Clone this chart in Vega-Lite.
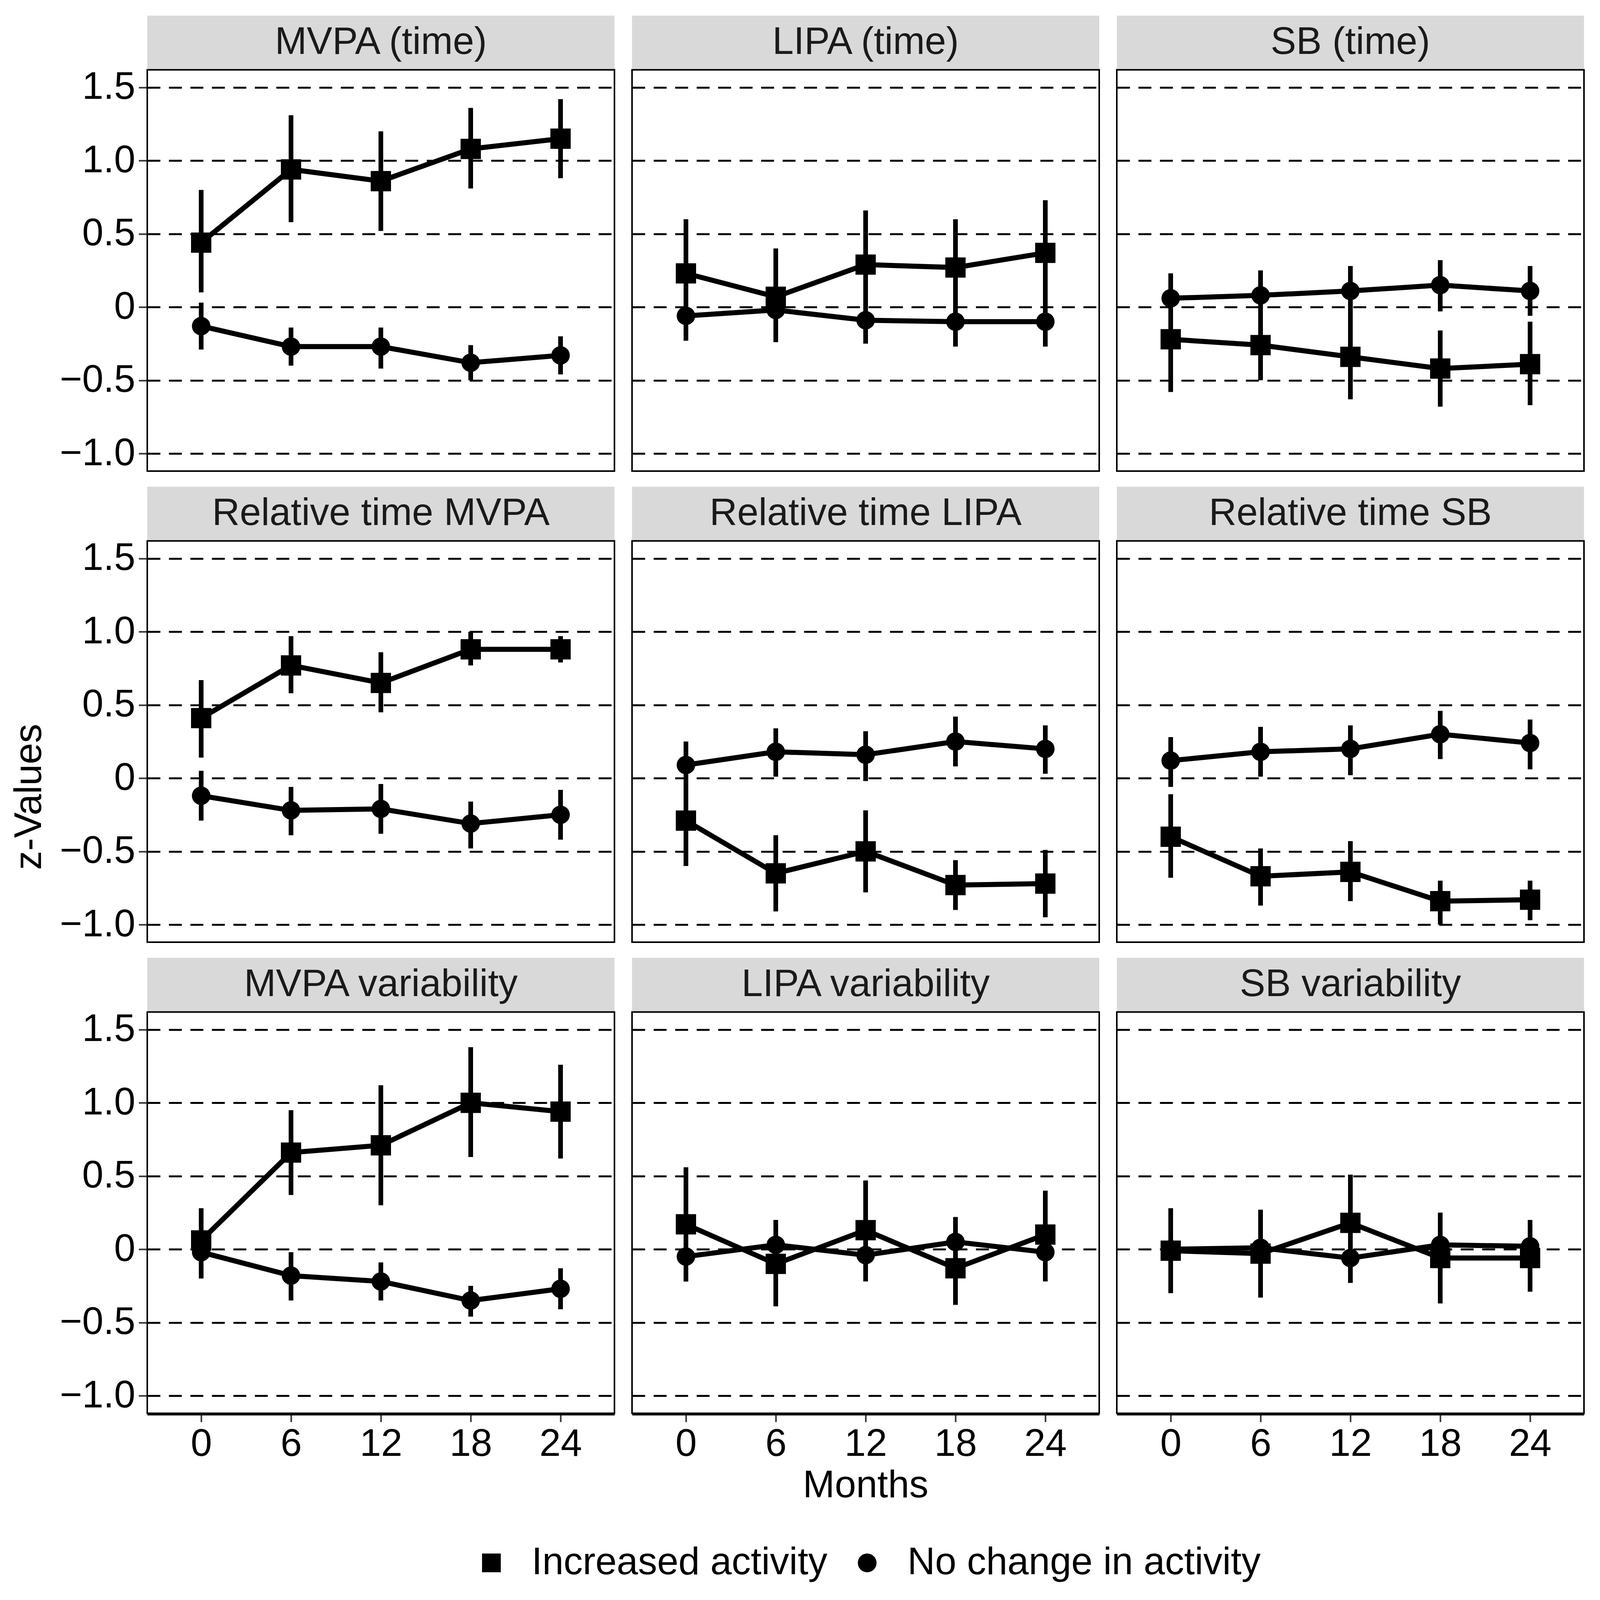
{
  "$schema": "https://vega.github.io/schema/vega-lite/v6.json",
  "background": "white",
  "padding": {"left": 26, "top": 30, "right": 50, "bottom": 20},
  "title": {"text": "z-Values", "orient": "left", "anchor": "middle", "fontSize": 98, "fontWeight": "normal", "color": "black", "offset": 27},
  "data": {
    "values": [
      {"panel": "MVPA (time)", "group": "Increased activity", "month": 0, "z": 0.44, "lo": 0.10, "hi": 0.80},
      {"panel": "MVPA (time)", "group": "Increased activity", "month": 6, "z": 0.94, "lo": 0.58, "hi": 1.31},
      {"panel": "MVPA (time)", "group": "Increased activity", "month": 12, "z": 0.86, "lo": 0.52, "hi": 1.20},
      {"panel": "MVPA (time)", "group": "Increased activity", "month": 18, "z": 1.08, "lo": 0.81, "hi": 1.36},
      {"panel": "MVPA (time)", "group": "Increased activity", "month": 24, "z": 1.15, "lo": 0.88, "hi": 1.42},
      {"panel": "MVPA (time)", "group": "No change in activity", "month": 0, "z": -0.13, "lo": -0.29, "hi": 0.03},
      {"panel": "MVPA (time)", "group": "No change in activity", "month": 6, "z": -0.27, "lo": -0.40, "hi": -0.14},
      {"panel": "MVPA (time)", "group": "No change in activity", "month": 12, "z": -0.27, "lo": -0.42, "hi": -0.14},
      {"panel": "MVPA (time)", "group": "No change in activity", "month": 18, "z": -0.38, "lo": -0.50, "hi": -0.26},
      {"panel": "MVPA (time)", "group": "No change in activity", "month": 24, "z": -0.33, "lo": -0.46, "hi": -0.20},

      {"panel": "LIPA (time)", "group": "Increased activity", "month": 0, "z": 0.23, "lo": -0.15, "hi": 0.60},
      {"panel": "LIPA (time)", "group": "Increased activity", "month": 6, "z": 0.07, "lo": -0.24, "hi": 0.40},
      {"panel": "LIPA (time)", "group": "Increased activity", "month": 12, "z": 0.29, "lo": -0.06, "hi": 0.66},
      {"panel": "LIPA (time)", "group": "Increased activity", "month": 18, "z": 0.27, "lo": -0.06, "hi": 0.60},
      {"panel": "LIPA (time)", "group": "Increased activity", "month": 24, "z": 0.37, "lo": 0.01, "hi": 0.73},
      {"panel": "LIPA (time)", "group": "No change in activity", "month": 0, "z": -0.06, "lo": -0.23, "hi": 0.09},
      {"panel": "LIPA (time)", "group": "No change in activity", "month": 6, "z": -0.02, "lo": -0.20, "hi": 0.15},
      {"panel": "LIPA (time)", "group": "No change in activity", "month": 12, "z": -0.09, "lo": -0.25, "hi": 0.07},
      {"panel": "LIPA (time)", "group": "No change in activity", "month": 18, "z": -0.10, "lo": -0.27, "hi": 0.07},
      {"panel": "LIPA (time)", "group": "No change in activity", "month": 24, "z": -0.10, "lo": -0.27, "hi": 0.06},

      {"panel": "SB (time)", "group": "Increased activity", "month": 0, "z": -0.22, "lo": -0.58, "hi": 0.14},
      {"panel": "SB (time)", "group": "Increased activity", "month": 6, "z": -0.26, "lo": -0.50, "hi": -0.02},
      {"panel": "SB (time)", "group": "Increased activity", "month": 12, "z": -0.34, "lo": -0.63, "hi": -0.04},
      {"panel": "SB (time)", "group": "Increased activity", "month": 18, "z": -0.42, "lo": -0.68, "hi": -0.16},
      {"panel": "SB (time)", "group": "Increased activity", "month": 24, "z": -0.39, "lo": -0.67, "hi": -0.10},
      {"panel": "SB (time)", "group": "No change in activity", "month": 0, "z": 0.06, "lo": -0.10, "hi": 0.23},
      {"panel": "SB (time)", "group": "No change in activity", "month": 6, "z": 0.08, "lo": -0.11, "hi": 0.25},
      {"panel": "SB (time)", "group": "No change in activity", "month": 12, "z": 0.11, "lo": -0.07, "hi": 0.28},
      {"panel": "SB (time)", "group": "No change in activity", "month": 18, "z": 0.15, "lo": -0.03, "hi": 0.32},
      {"panel": "SB (time)", "group": "No change in activity", "month": 24, "z": 0.11, "lo": -0.06, "hi": 0.28},

      {"panel": "Relative time MVPA", "group": "Increased activity", "month": 0, "z": 0.41, "lo": 0.14, "hi": 0.67},
      {"panel": "Relative time MVPA", "group": "Increased activity", "month": 6, "z": 0.77, "lo": 0.58, "hi": 0.97},
      {"panel": "Relative time MVPA", "group": "Increased activity", "month": 12, "z": 0.65, "lo": 0.45, "hi": 0.86},
      {"panel": "Relative time MVPA", "group": "Increased activity", "month": 18, "z": 0.88, "lo": 0.77, "hi": 1.00},
      {"panel": "Relative time MVPA", "group": "Increased activity", "month": 24, "z": 0.88, "lo": 0.79, "hi": 0.97},
      {"panel": "Relative time MVPA", "group": "No change in activity", "month": 0, "z": -0.12, "lo": -0.29, "hi": 0.05},
      {"panel": "Relative time MVPA", "group": "No change in activity", "month": 6, "z": -0.22, "lo": -0.39, "hi": -0.06},
      {"panel": "Relative time MVPA", "group": "No change in activity", "month": 12, "z": -0.21, "lo": -0.38, "hi": -0.04},
      {"panel": "Relative time MVPA", "group": "No change in activity", "month": 18, "z": -0.31, "lo": -0.48, "hi": -0.16},
      {"panel": "Relative time MVPA", "group": "No change in activity", "month": 24, "z": -0.25, "lo": -0.42, "hi": -0.08},

      {"panel": "Relative time LIPA", "group": "Increased activity", "month": 0, "z": -0.29, "lo": -0.60, "hi": 0.00},
      {"panel": "Relative time LIPA", "group": "Increased activity", "month": 6, "z": -0.65, "lo": -0.91, "hi": -0.39},
      {"panel": "Relative time LIPA", "group": "Increased activity", "month": 12, "z": -0.50, "lo": -0.78, "hi": -0.22},
      {"panel": "Relative time LIPA", "group": "Increased activity", "month": 18, "z": -0.73, "lo": -0.90, "hi": -0.56},
      {"panel": "Relative time LIPA", "group": "Increased activity", "month": 24, "z": -0.72, "lo": -0.95, "hi": -0.49},
      {"panel": "Relative time LIPA", "group": "No change in activity", "month": 0, "z": 0.09, "lo": -0.09, "hi": 0.25},
      {"panel": "Relative time LIPA", "group": "No change in activity", "month": 6, "z": 0.18, "lo": 0.01, "hi": 0.34},
      {"panel": "Relative time LIPA", "group": "No change in activity", "month": 12, "z": 0.16, "lo": -0.02, "hi": 0.32},
      {"panel": "Relative time LIPA", "group": "No change in activity", "month": 18, "z": 0.25, "lo": 0.08, "hi": 0.42},
      {"panel": "Relative time LIPA", "group": "No change in activity", "month": 24, "z": 0.20, "lo": 0.03, "hi": 0.36},

      {"panel": "Relative time SB", "group": "Increased activity", "month": 0, "z": -0.40, "lo": -0.68, "hi": -0.11},
      {"panel": "Relative time SB", "group": "Increased activity", "month": 6, "z": -0.67, "lo": -0.87, "hi": -0.48},
      {"panel": "Relative time SB", "group": "Increased activity", "month": 12, "z": -0.64, "lo": -0.84, "hi": -0.43},
      {"panel": "Relative time SB", "group": "Increased activity", "month": 18, "z": -0.84, "lo": -1.00, "hi": -0.70},
      {"panel": "Relative time SB", "group": "Increased activity", "month": 24, "z": -0.83, "lo": -0.97, "hi": -0.70},
      {"panel": "Relative time SB", "group": "No change in activity", "month": 0, "z": 0.12, "lo": -0.06, "hi": 0.28},
      {"panel": "Relative time SB", "group": "No change in activity", "month": 6, "z": 0.18, "lo": 0.01, "hi": 0.35},
      {"panel": "Relative time SB", "group": "No change in activity", "month": 12, "z": 0.20, "lo": 0.02, "hi": 0.36},
      {"panel": "Relative time SB", "group": "No change in activity", "month": 18, "z": 0.30, "lo": 0.13, "hi": 0.46},
      {"panel": "Relative time SB", "group": "No change in activity", "month": 24, "z": 0.24, "lo": 0.06, "hi": 0.40},

      {"panel": "MVPA variability", "group": "Increased activity", "month": 0, "z": 0.06, "lo": -0.17, "hi": 0.28},
      {"panel": "MVPA variability", "group": "Increased activity", "month": 6, "z": 0.66, "lo": 0.37, "hi": 0.95},
      {"panel": "MVPA variability", "group": "Increased activity", "month": 12, "z": 0.71, "lo": 0.30, "hi": 1.12},
      {"panel": "MVPA variability", "group": "Increased activity", "month": 18, "z": 1.00, "lo": 0.63, "hi": 1.38},
      {"panel": "MVPA variability", "group": "Increased activity", "month": 24, "z": 0.94, "lo": 0.62, "hi": 1.26},
      {"panel": "MVPA variability", "group": "No change in activity", "month": 0, "z": -0.02, "lo": -0.20, "hi": 0.16},
      {"panel": "MVPA variability", "group": "No change in activity", "month": 6, "z": -0.18, "lo": -0.35, "hi": -0.02},
      {"panel": "MVPA variability", "group": "No change in activity", "month": 12, "z": -0.22, "lo": -0.35, "hi": -0.09},
      {"panel": "MVPA variability", "group": "No change in activity", "month": 18, "z": -0.35, "lo": -0.46, "hi": -0.25},
      {"panel": "MVPA variability", "group": "No change in activity", "month": 24, "z": -0.27, "lo": -0.41, "hi": -0.13},

      {"panel": "LIPA variability", "group": "Increased activity", "month": 0, "z": 0.17, "lo": -0.22, "hi": 0.56},
      {"panel": "LIPA variability", "group": "Increased activity", "month": 6, "z": -0.10, "lo": -0.39, "hi": 0.19},
      {"panel": "LIPA variability", "group": "Increased activity", "month": 12, "z": 0.13, "lo": -0.22, "hi": 0.47},
      {"panel": "LIPA variability", "group": "Increased activity", "month": 18, "z": -0.13, "lo": -0.38, "hi": 0.12},
      {"panel": "LIPA variability", "group": "Increased activity", "month": 24, "z": 0.10, "lo": -0.22, "hi": 0.40},
      {"panel": "LIPA variability", "group": "No change in activity", "month": 0, "z": -0.05, "lo": -0.22, "hi": 0.11},
      {"panel": "LIPA variability", "group": "No change in activity", "month": 6, "z": 0.03, "lo": -0.16, "hi": 0.20},
      {"panel": "LIPA variability", "group": "No change in activity", "month": 12, "z": -0.04, "lo": -0.21, "hi": 0.13},
      {"panel": "LIPA variability", "group": "No change in activity", "month": 18, "z": 0.05, "lo": -0.14, "hi": 0.22},
      {"panel": "LIPA variability", "group": "No change in activity", "month": 24, "z": -0.02, "lo": -0.20, "hi": 0.14},

      {"panel": "SB variability", "group": "Increased activity", "month": 0, "z": -0.01, "lo": -0.30, "hi": 0.28},
      {"panel": "SB variability", "group": "Increased activity", "month": 6, "z": -0.03, "lo": -0.33, "hi": 0.27},
      {"panel": "SB variability", "group": "Increased activity", "month": 12, "z": 0.18, "lo": -0.17, "hi": 0.51},
      {"panel": "SB variability", "group": "Increased activity", "month": 18, "z": -0.06, "lo": -0.37, "hi": 0.25},
      {"panel": "SB variability", "group": "Increased activity", "month": 24, "z": -0.06, "lo": -0.29, "hi": 0.15},
      {"panel": "SB variability", "group": "No change in activity", "month": 0, "z": 0.00, "lo": -0.18, "hi": 0.18},
      {"panel": "SB variability", "group": "No change in activity", "month": 6, "z": 0.01, "lo": -0.17, "hi": 0.18},
      {"panel": "SB variability", "group": "No change in activity", "month": 12, "z": -0.06, "lo": -0.23, "hi": 0.11},
      {"panel": "SB variability", "group": "No change in activity", "month": 18, "z": 0.03, "lo": -0.16, "hi": 0.19},
      {"panel": "SB variability", "group": "No change in activity", "month": 24, "z": 0.02, "lo": -0.17, "hi": 0.20}
    ]
  },
  "facet": {
    "field": "panel",
    "type": "nominal",
    "sort": ["MVPA (time)", "LIPA (time)", "SB (time)", "Relative time MVPA", "Relative time LIPA", "Relative time SB", "MVPA variability", "LIPA variability", "SB variability"],
    "header": {"title": "Months", "titleOrient": "bottom", "labels": false, "labelExpr": "''", "labelPadding": 0, "titleFontSize": 98, "titleFontWeight": "normal", "titleColor": "black", "titlePadding": 10}
  },
  "columns": 3,
  "spacing": {"row": 28, "column": 41},
  "spec": {
    "width": 1196,
    "height": 1166,
    "layer": [
      {
        "transform": [{"filter": "datum.month == 0 && datum.group == 'Increased activity'"}],
        "mark": {"type": "rect", "fill": "#D9D9D9"},
        "encoding": {
          "x": {"datum": -3.6, "type": "quantitative"},
          "x2": {"datum": 27.6},
          "y": {"datum": 1.62, "type": "quantitative"},
          "y2": {"datum": 1.99}
        }
      },
      {
        "transform": [{"filter": "datum.month == 0 && datum.group == 'Increased activity'"}],
        "mark": {"type": "text", "fontSize": 98, "color": "#1A1A1A", "baseline": "middle", "align": "center"},
        "encoding": {
          "x": {"datum": 12, "type": "quantitative"},
          "y": {"datum": 1.805, "type": "quantitative"},
          "text": {"field": "panel"}
        }
      },
      {
        "mark": {"type": "rule", "strokeWidth": 12, "color": "black"},
        "encoding": {
          "x": {
            "field": "month", "type": "quantitative",
            "scale": {"domain": [-3.6, 27.6], "nice": false, "zero": false},
            "axis": {"title": null, "values": [0, 6, 12, 18, 24], "format": "d", "grid": false, "domain": true, "domainWidth": 6, "domainColor": "black"}
          },
          "xOffset": {"field": "group", "type": "nominal", "scale": {"type": "point", "domain": ["Increased activity", "No change in activity"], "range": [-40, 40], "padding": 0}},
          "y": {
            "field": "lo", "type": "quantitative",
            "scale": {"domain": [-1.12, 1.99], "nice": false, "zero": false},
            "axis": {"title": null, "values": [-1, -0.5, 0, 0.5, 1, 1.5], "labelExpr": "datum.value == 0 ? '0' : format(datum.value, '.1f')", "grid": true, "gridDash": [33, 22], "gridColor": "black", "gridWidth": 5, "domain": false}
          },
          "y2": {"field": "hi"}
        }
      },
      {
        "mark": {"type": "line", "strokeWidth": 13, "color": "black"},
        "encoding": {
          "x": {"field": "month", "type": "quantitative"},
          "xOffset": {"field": "group", "type": "nominal"},
          "y": {"field": "z", "type": "quantitative"},
          "detail": {"field": "group"}
        }
      },
      {
        "transform": [{"filter": "datum.group == 'Increased activity'"}],
        "mark": {"type": "point", "filled": true, "opacity": 1, "color": "black", "size": 2700},
        "encoding": {
          "x": {"field": "month", "type": "quantitative"},
          "xOffset": {"field": "group", "type": "nominal"},
          "y": {"field": "z", "type": "quantitative"},
          "shape": {
            "field": "group", "type": "nominal",
            "scale": {"domain": ["Increased activity", "No change in activity"], "range": ["square", "circle"]},
            "legend": {"title": null, "orient": "none", "legendX": 832, "legendY": 3912, "direction": "horizontal"}
          }
        }
      },
      {
        "transform": [{"filter": "datum.group == 'No change in activity'"}],
        "mark": {"type": "point", "filled": true, "opacity": 1, "color": "black", "size": 2250},
        "encoding": {
          "x": {"field": "month", "type": "quantitative"},
          "xOffset": {"field": "group", "type": "nominal"},
          "y": {"field": "z", "type": "quantitative"},
          "shape": {"field": "group", "type": "nominal"}
        }
      },
      {
        "transform": [{"filter": "datum.month == 0 && datum.group == 'Increased activity'"}],
        "mark": {"type": "rect", "fillOpacity": 0, "stroke": "black", "strokeWidth": 4},
        "encoding": {
          "x": {"datum": -3.6, "type": "quantitative"},
          "x2": {"datum": 27.6},
          "y": {"datum": -1.12, "type": "quantitative"},
          "y2": {"datum": 1.62}
        }
      }
    ]
  },
  "config": {
    "font": "Liberation Sans",
    "view": {"stroke": null},
    "axis": {
      "labelFontSize": 98,
      "labelColor": "black",
      "labelPadding": 9,
      "labelLimit": 1000,
      "tickColor": "#333333",
      "tickWidth": 4,
      "tickSize": 20
    },
    "legend": {
      "labelFontSize": 98,
      "labelColor": "black",
      "symbolSize": 2300,
      "symbolFillColor": "black",
      "symbolStrokeColor": "black",
      "symbolStrokeWidth": 0,
      "labelOffset": 54,
      "columnPadding": 52,
      "labelLimit": 2000
    }
  }
}
